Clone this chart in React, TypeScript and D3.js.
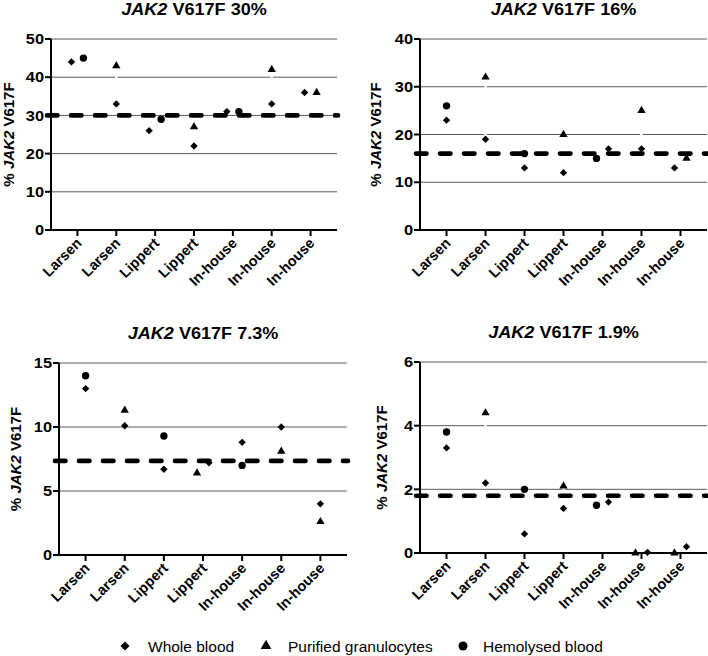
import React from "react";
import * as d3 from "d3";

// ---------- data ----------
const categories = ["Larsen", "Larsen", "Lippert", "Lippert", "In-house", "In-house", "In-house"];
const seriesNames = ["Whole blood", "Purified granulocytes", "Hemolysed blood"];
const panelLevels = ["30%", "16%", "7.3%", "1.9%"];
const referenceValues = [30, 16, 7.35, 1.8];
const yMaxValues = [50, 40, 15, 6];

const yTicks30 = [0, 10, 20, 30, 40, 50];
const yTicks16 = [0, 10, 20, 30, 40];
const yTicks7 = [0, 5, 10, 15];
const yTicks19 = [0, 2, 4, 6];

const wholeBlood30 = [44, 33, 26, 22, 31, 33, 36];
const purified30 = [null, 43, null, 27, null, 42, 36];
const hemolysed30 = [45, null, 29, null, 31, null, null];

const wholeBlood16 = [23, 19, 13, 12, 17, 17, 13];
const purified16 = [null, 32, null, 20, null, 25, 15];
const hemolysed16 = [26, null, 16, null, 15, null, null];

const wholeBlood7 = [13, 10.1, 6.7, 7.2, 8.8, 10, 4];
const purified7 = [null, 11.3, null, 6.4, null, 8.1, 2.6];
const hemolysed7 = [14, null, 9.3, null, 7.0, null, null];

const wholeBlood19 = [3.3, 2.2, 0.6, 1.4, 1.6, 0.02, 0.2];
const purified19 = [null, 4.4, null, 2.1, null, 0, 0];
const hemolysed19 = [3.8, null, 2.0, null, 1.5, null, null];

// ---------- layout ----------
const W = 708;
const H = 656;
const FONT = "'Liberation Sans', Arial, Helvetica, sans-serif";
const STRETCH = 1.13;

const layouts = [
  { x0: 51, x1: 337, yTop: 39, yBot: 230, titleY: 15, labelX: 13.5 },
  { x0: 420, x1: 707, yTop: 39, yBot: 230, titleY: 15, labelX: 380.5 },
  { x0: 59, x1: 347, yTop: 363, yBot: 555, titleY: 339, labelX: 20.5 },
  { x0: 420, x1: 707, yTop: 362, yBot: 553, titleY: 338, labelX: 386.5 },
];

const panelData = [
  { series: [wholeBlood30, purified30, hemolysed30], ticks: yTicks30 },
  { series: [wholeBlood16, purified16, hemolysed16], ticks: yTicks16 },
  { series: [wholeBlood7, purified7, hemolysed7], ticks: yTicks7 },
  { series: [wholeBlood19, purified19, hemolysed19], ticks: yTicks19 },
];

const symbolTypes = [d3.symbolSquare, d3.symbolTriangle, d3.symbolCircle];
const symbolSizes = [27, 30, 43];
const symbolRot = [45, 0, 0];
const legendSizes = [42, 50, 64];

function symPath(s: number, size: number) {
  return d3.symbol().type(symbolTypes[s]).size(size)() as string;
}

function Panel({ idx }: { idx: number }) {
  const L = layouts[idx];
  const pd = panelData[idx];
  const x = d3
    .scalePoint<number>()
    .domain(categories.map((_, i) => i))
    .range([L.x0, L.x1])
    .padding(0.68);
  const y = d3.scaleLinear().domain([0, yMaxValues[idx]]).range([L.yBot, L.yTop]);

  type Pt = { s: number; v: number; cx: number; cy: number };
  const pts: Pt[] = [];
  const links: { x: number; y1: number; y2: number }[] = [];
  categories.forEach((_, i) => {
    const items = pd.series
      .map((arr, s) => ({ s, v: arr[i] as number | null }))
      .filter((d) => d.v !== null && d.v !== undefined) as { s: number; v: number }[];
    const cx = x(i) as number;
    if (items.length === 2 && Math.abs(y(items[0].v) - y(items[1].v)) < 12) {
      const sorted = items.slice().sort((a, b) => a.v - b.v);
      sorted.forEach((d, k) => pts.push({ ...d, cx: cx + (k === 0 ? -6 : 6), cy: y(d.v) }));
    } else {
      items.forEach((d) => pts.push({ ...d, cx, cy: y(d.v) }));
      if (items.length === 2 && items.some((d) => d.s === 1)) {
        links.push({ x: cx, y1: y(items[0].v), y2: y(items[1].v) });
      }
    }
  });

  const titleX = (L.x0 + L.x1) / 2;
  const labelY = (L.yTop + L.yBot) / 2;

  return (
    <g>
      {/* title */}
      <text
        transform={`translate(${titleX},${L.titleY}) scale(${STRETCH},1)`}
        textAnchor="middle"
        fontFamily={FONT}
        fontWeight="bold"
        fontSize={16}
        fill="#000"
      >
        <tspan fontStyle="italic">JAK2</tspan>
        <tspan>{" V617F " + panelLevels[idx]}</tspan>
      </text>
      {/* y label */}
      <text
        transform={`translate(${L.labelX},${labelY}) rotate(-90)`}
        textAnchor="middle"
        fontFamily={FONT}
        fontWeight="bold"
        fontSize={15}
        fill="#000"
      >
        <tspan>{"% "}</tspan>
        <tspan fontStyle="italic">JAK2</tspan>
        <tspan>{" V617F"}</tspan>
      </text>
      {/* gridlines */}
      {pd.ticks
        .filter((t) => t > 0)
        .map((t) => (
          <line key={"g" + t} x1={L.x0} x2={L.x1} y1={y(t)} y2={y(t)} stroke="#5a5a5a" strokeWidth={1} />
        ))}
      {/* white connectors */}
      {links.map((l, k) => (
        <line key={"l" + k} x1={l.x} x2={l.x} y1={l.y1} y2={l.y2} stroke="#fff" strokeWidth={2.5} />
      ))}
      {/* reference line */}
      <line
        x1={L.x0 - 4}
        x2={L.x1 + 1}
        y1={y(referenceValues[idx])}
        y2={y(referenceValues[idx])}
        stroke="#000"
        strokeWidth={4.6}
        strokeDasharray="10.5 13.5"
        strokeLinecap="round"
      />
      {/* axes */}
      <line x1={L.x0} x2={L.x0} y1={L.yTop} y2={L.yBot + 1} stroke="#000" strokeWidth={2} />
      <line x1={L.x0 - 6} x2={L.x1} y1={L.yBot} y2={L.yBot} stroke="#000" strokeWidth={2} />
      {pd.ticks.map((t) => (
        <g key={"t" + t}>
          <line x1={L.x0 - 6} x2={L.x0} y1={y(t)} y2={y(t)} stroke="#000" strokeWidth={2} />
          <text
            transform={`translate(${L.x0 - 7},${y(t)}) scale(${STRETCH},1)`}
            dy="0.36em"
            textAnchor="end"
            fontFamily={FONT}
            fontWeight="bold"
            fontSize={14.5}
            fill="#000"
          >
            {t}
          </text>
        </g>
      ))}
      {categories.map((c, i) => (
        <g key={"c" + i}>
          <line x1={x(i)} x2={x(i)} y1={L.yBot} y2={L.yBot + 6} stroke="#000" strokeWidth={2} />
          <text
            transform={`translate(${(x(i) as number) + 5},${L.yBot + 14}) rotate(-45)`}
            textAnchor="end"
            fontFamily={FONT}
            fontWeight="bold"
            fontSize={14.5}
            fill="#000"
          >
            {c}
          </text>
        </g>
      ))}
      {/* markers */}
      {pts.map((p, k) => (
        <path
          key={"p" + k}
          d={symPath(p.s, symbolSizes[p.s])}
          transform={`translate(${p.cx},${p.cy}) rotate(${symbolRot[p.s]})`}
          fill="#000"
        />
      ))}
    </g>
  );
}

function Legend() {
  const items = [
    { mx: 125, tx: 148 },
    { mx: 266, tx: 288 },
    { mx: 463, tx: 483 },
  ];
  const ly = 646;
  return (
    <g>
      {items.map((it, s) => (
        <g key={s}>
          <path
            d={symPath(s, legendSizes[s])}
            transform={`translate(${it.mx},${ly}) rotate(${symbolRot[s]})`}
            fill="#000"
          />
          <text x={it.tx} y={ly + 5.5} fontFamily={FONT} fontSize={15.5} fill="#000">
            {seriesNames[s]}
          </text>
        </g>
      ))}
    </g>
  );
}

export default function App() {
  return (
    <svg
      width={W}
      height={H}
      viewBox={`0 0 ${W} ${H}`}
      style={{ position: "absolute", left: 0, top: 0, background: "#fff" }}
    >
      <rect width={W} height={H} fill="#fff" />
      {layouts.map((_, i) => (
        <Panel key={i} idx={i} />
      ))}
      <Legend />
    </svg>
  );
}
